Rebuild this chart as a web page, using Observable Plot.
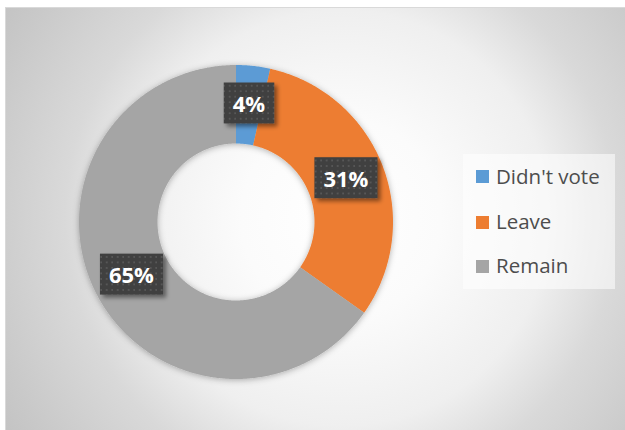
<!DOCTYPE html>
<html><head><meta charset="utf-8">
<script src="https://cdn.jsdelivr.net/npm/d3@7"></script>
<script src="https://cdn.jsdelivr.net/npm/@observablehq/plot@0.6"></script>
<style>
html,body{margin:0;padding:0;background:#fff;}
#wrap{position:relative;width:625px;height:430px;overflow:hidden;}
#bg{position:absolute;left:5px;top:7px;width:620px;height:423px;box-sizing:border-box;
 border-top:1px solid #d9d9d9;border-left:1px solid #d9d9d9;
 background:radial-gradient(circle 400px at 335px 210px,#ffffff 0%,#fbfbfb 25%,#efefef 52%,#d9d9d9 69%,#c9c9c9 91%,#c3c3c3 100%);}
#chart{position:absolute;left:0;top:0;}
#legend{position:absolute;left:463px;top:154px;width:152px;height:135px;background:rgba(255,255,255,0.55);
 font-family:"Open Sans",sans-serif;font-size:20.5px;color:#4d4d4d;}
.item{position:absolute;left:0;height:24px;line-height:24px;width:152px;}
.sw{position:absolute;left:13px;top:5.5px;width:13px;height:13px;}
.tx{position:absolute;left:33px;top:-1px;white-space:nowrap;}
</style></head>
<body>
<div id="wrap"><div id="bg"></div><div id="chart"></div><div id="legend"></div></div>
<script>
const categories = ["Didn't vote", "Leave", "Remain"];
const shares = [3.5, 31.3, 65.2];
const labels = ["4%", "31%", "65%"];
const colors = ["#5b9bd5", "#ed7d31", "#a5a5a5"];
const holeRatio = 0.5;

const arcs = d3.pie().sort(null)(shares);
function ring(a0, a1) {
  const n = Math.max(2, Math.ceil((a1 - a0) / (Math.PI / 360)));
  const outer = [], inn = [];
  for (let i = 0; i <= n; i++) {
    const a = a0 + (a1 - a0) * i / n;
    outer.push([Math.sin(a), -Math.cos(a)]);
    inn.push([holeRatio * Math.sin(a), -holeRatio * Math.cos(a)]);
  }
  return {type: "Polygon", coordinates: [[...outer, ...inn.reverse(), outer[0]]]};
}
const features = arcs.map((a, i) => ({type: "Feature", properties: {name: categories[i]}, geometry: ring(a.startAngle, a.endAngle)}));
const rMid = (1 + holeRatio) / 2;
const labelData = arcs.map((a, i) => {
  const m = (a.startAngle + a.endAngle) / 2;
  return {x: rMid * Math.sin(m), y: -rMid * Math.cos(m), label: labels[i]};
});

const plot = Plot.plot({
  width: 625, height: 430,
  marginLeft: 78.5, marginRight: 232.5, marginTop: 64.5, marginBottom: 51.5,
  projection: {type: "identity", domain: {type: "MultiPoint", coordinates: [[-1, -1], [1, 1]]}},
  color: {domain: categories, range: colors},
  style: {background: "transparent", overflow: "visible"},
  marks: [
    Plot.geo(features, {fill: d => d.properties.name, className: "ring"}),
    Plot.text(labelData, {x: "x", y: "y", text: "label", fill: "white", fontSize: 22, fontWeight: "bold", fontFamily: "Open Sans", className: "lbl"})
  ]
});
document.getElementById("chart").appendChild(plot);

// defs: pattern + filters
const ns = "http://www.w3.org/2000/svg";
const svg = plot.tagName === "svg" ? plot : plot.querySelector("svg");
const defs = document.createElementNS(ns, "defs");
defs.innerHTML = `
<pattern id="dots" patternUnits="userSpaceOnUse" width="5.5" height="5.5">
  <rect width="5.5" height="5.5" fill="#404040"/>
  <rect x="2" y="2" width="1.6" height="1.6" fill="#5e5e5e"/>
</pattern>
<filter id="ringShadow" x="-20%" y="-20%" width="140%" height="140%">
  <feDropShadow dx="0" dy="1" stdDeviation="3" flood-color="#000" flood-opacity="0.3"/>
</filter>
<filter id="boxShadow" x="-30%" y="-30%" width="170%" height="170%">
  <feDropShadow dx="3" dy="3" stdDeviation="2" flood-color="#000" flood-opacity="0.45"/>
</filter>`;
svg.insertBefore(defs, svg.firstChild);
const ringG = svg.querySelector("g.ring");
if (ringG) ringG.setAttribute("filter", "url(#ringShadow)");
svg.querySelectorAll("g.lbl text").forEach(t => {
  const b = t.getBBox();
  const r = document.createElementNS(ns, "rect");
  const w = b.width + 18, h = 41;
  const cy = b.y + b.height / 2;
  r.setAttribute("x", b.x + b.width / 2 - w / 2);
  r.setAttribute("y", cy - h / 2);
  r.setAttribute("width", w);
  r.setAttribute("height", h);
  r.setAttribute("fill", "url(#dots)");
  r.setAttribute("filter", "url(#boxShadow)");
  if (t.getAttribute("transform")) r.setAttribute("transform", t.getAttribute("transform"));
  t.parentNode.insertBefore(r, t);
});

// legend
const color = plot.scale("color");
const leg = document.getElementById("legend");
const rowCenters = [22.7, 68, 112];
categories.forEach((c, i) => {
  const it = document.createElement("div");
  it.className = "item";
  it.style.top = (rowCenters[i] - 12) + "px";
  it.innerHTML = `<div class="sw" style="background:${color.apply(c)}"></div><div class="tx"></div>`;
  it.querySelector(".tx").textContent = c;
  leg.appendChild(it);
});
</script>
</body></html>
